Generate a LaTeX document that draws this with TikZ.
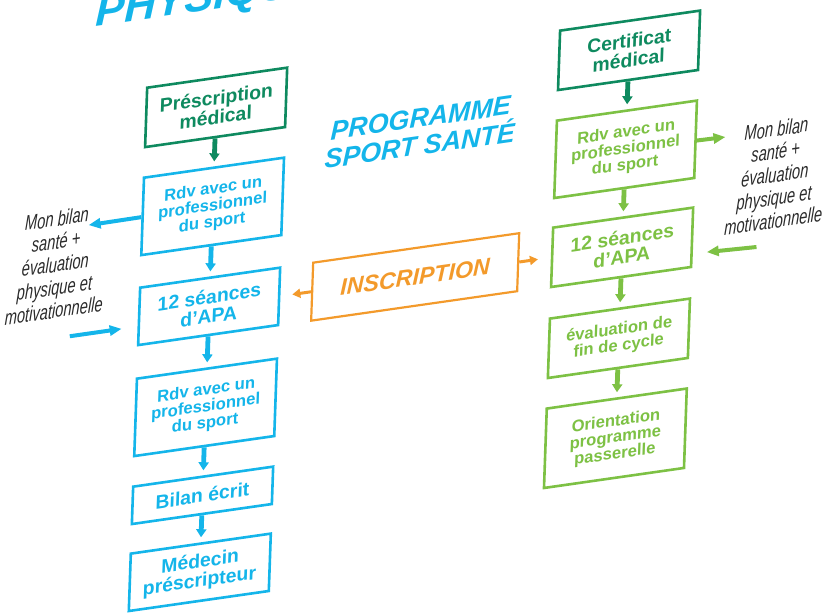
\documentclass[tikz,border=0pt]{standalone}
\usepackage{fontspec}
\setmainfont{Liberation Sans}
\newfontfamily\notefont[FakeStretch=0.7]{Liberation Sans}
\usepackage{tikz}
\usetikzlibrary{arrows.meta,positioning}

\definecolor{apablue}{HTML}{14B5EA}
\definecolor{medgreen}{HTML}{0E8A5F}
\definecolor{sportgreen}{HTML}{7DC144}
\definecolor{inscorange}{HTML}{F39A2B}
\definecolor{notegray}{HTML}{2B2B2B}

\tikzset{skewed/.style={cm={1,0.143,0.035,1,(0,0)},transform shape}}

\begin{document}
\begin{tikzpicture}[x=0.5pt,y=0.5pt,node distance=14pt,
  box/.style={draw,line width=1.3pt,fill=white,minimum width=70pt,inner sep=2pt,
    align=center,font=\bfseries\fontsize{9.7}{9.7}\selectfont},
  small/.style={font=\bfseries\fontsize{8.3}{8.3}\selectfont},
  medbox/.style={box,draw=medgreen,text=medgreen},
  bluebox/.style={box,draw=apablue,text=apablue},
  greenbox/.style={box,draw=sportgreen,text=sportgreen},
  note/.style={text=notegray,align=center,font=\notefont\itshape\fontsize{10.5}{11.5}\selectfont},
  flow/.style={line width=2.4pt,-{Triangle[width=5pt,length=4pt]},shorten >=2.5pt},
  side/.style={line width=2pt,-{Triangle[width=5pt,length=6pt]}},
  signup/.style={line width=1.5pt,inscorange,-{Triangle[width=4.5pt,length=4pt]}}]
  \useasboundingbox (0,0) rectangle (823,-613);
  \begin{scope}[skewed]
  % headings
  \node[anchor=base west,inner sep=0,text=apablue,
    font=\bfseries\itshape\fontsize{21.8}{22}\selectfont] (phys) at (96,-40) {PHYSIQUE};
  \node[align=center,text=apablue,font=\bfseries\itshape\fontsize{13.4}{14}\selectfont]
    (prog) at (427,-193) {PROGRAMME\\SPORT SANTÉ};

  % left column
  \node[medbox,minimum height=29.7pt] (prescL) at (221,-139) {Préscription\\médical};
  \node[bluebox,small,minimum height=38.7pt] (rdvL) [below=of prescL] {Rdv avec un\\professionnel\\du sport};
  \node[bluebox,minimum height=28.7pt] (apaL) [below=15pt of rdvL] {12 séances\\d’APA};
  \node[bluebox,small,minimum height=38.7pt] (rdvL2) [below=15.5pt of apaL] {Rdv avec un\\professionnel\\du sport};
  \node[bluebox,minimum height=18.7pt] (bilan) [below=of rdvL2] {Bilan écrit};
  \node[bluebox,minimum height=28.7pt] (medecin) [below=13.5pt of bilan] {Médecin\\préscripteur};

  % right column
  \node[medbox,minimum height=29.7pt] (certR) at (634,-141) {Certificat\\médical};
  \node[greenbox,small,minimum height=38.7pt] (rdvR) [below=of certR] {Rdv avec un\\professionnel\\du sport};
  \node[greenbox,minimum height=29.7pt] (apaR) [below=13.5pt of rdvR] {12 séances\\d’APA};
  \node[greenbox,small,minimum height=29.7pt] (evalR) [below=14.5pt of apaR] {évaluation de\\fin de cycle};
  \node[greenbox,small,minimum height=39.7pt] (orientR) [below=of evalR] {Orientation\\programme\\passerelle};

  % middle
  \node[box,draw=inscorange,text=inscorange,line width=1.1pt,minimum width=103pt,minimum height=29pt,
    font=\bfseries\itshape\fontsize{11.6}{11.6}\selectfont] (inscr) at (427,-338) {INSCRIPTION};

  % bilan notes
  \node[note] (noteL) at (65,-274) {Mon bilan\\santé +\\évaluation\\physique et\\motivationnelle};
  \node[note] (noteR) at (785,-287) {Mon bilan\\santé +\\évaluation\\physique et\\motivationnelle};
  \coordinate (outL) at (97,-239);
  \coordinate (inL) at (82,-348);
  \coordinate (outR) at (734,-242);
  \coordinate (inR) at (769,-357);

  \path[flow]
  (prescL) edge [medgreen] (rdvL)
  (rdvL) edge [apablue] (apaL)
  (apaL) edge [apablue] (rdvL2)
  (rdvL2) edge [apablue] (bilan)
  (bilan) edge [apablue] (medecin)
  (certR) edge [medgreen] (rdvR)
  (rdvR) edge [sportgreen] (apaR)
  (apaR) edge [sportgreen] (evalR)
  (evalR) edge [sportgreen] (orientR)
  ;
  \path[side]
  (rdvL) edge [apablue] (outL)
  (inL) edge [apablue,shorten >=8pt] (apaL.188)
  (rdvR) edge [sportgreen] (outR)
  (inR) edge [sportgreen,shorten >=7pt] (apaR.347)
  ;
  \path[signup]
  (inscr) edge [shorten >=6pt] (apaL)
  (inscr) edge [shorten >=6.5pt] (apaR)
  ;
  \end{scope}
\end{tikzpicture}
\end{document}
